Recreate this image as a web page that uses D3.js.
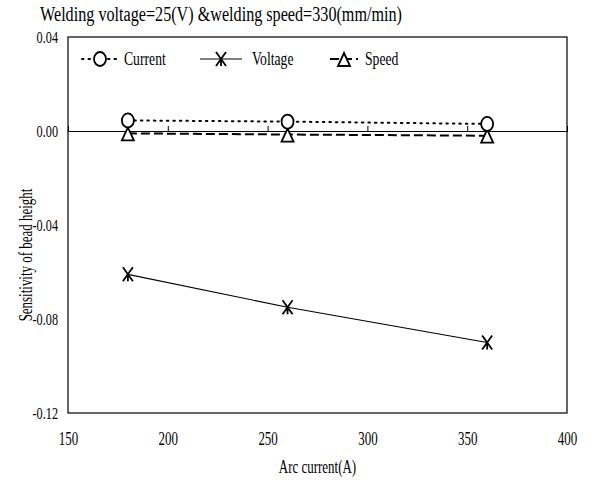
<!DOCTYPE html>
<html>
<head>
<meta charset="utf-8">
<script src="https://cdn.jsdelivr.net/npm/d3@7"></script>
<style>
  body { margin: 0; background: #fff; }
  text { font-family: "Liberation Serif", "DejaVu Serif", serif; fill: #000; }
</style>
</head>
<body>
<div id="chart"></div>
<script>
// DATA
var arcCurrent = [180, 260, 360];
var currentSens = [0.0045, 0.004, 0.003];
var voltageSens = [-0.061, -0.075, -0.090];
var speedSens = [-0.001, -0.0015, -0.002];
var xTicks = [150, 200, 250, 300, 350, 400];
var yTicks = [0.04, 0.00, -0.04, -0.08, -0.12];

// SET UP CHART
var svgWidth = 600;
var svgHeight = 480;
var margin = { top: 37, right: 33, bottom: 67, left: 68 };
var chartWidth = svgWidth - margin.left - margin.right;
var chartHeight = svgHeight - margin.top - margin.bottom;
var squeeze = 0.72; // condensed look of the original font

var svg = d3.select("#chart")
  .append("svg")
  .attr("width", svgWidth)
  .attr("height", svgHeight);

var chartGroup = svg.append("g")
  .attr("transform", `translate(${margin.left}, ${margin.top})`);

// squeeze text horizontally while keeping its anchor point
function condense(sel) {
  sel.each(function() {
    var t = d3.select(this);
    var x = +t.attr("x") || 0;
    t.attr("x", x / squeeze).attr("transform", `scale(${squeeze},1)`);
  });
}

// SCALES
var xScale = d3.scaleLinear().domain([150, 400]).range([0, chartWidth]);
var yScale = d3.scaleLinear().domain([-0.12, 0.04]).range([chartHeight, 0]);

// plot box
chartGroup.append("rect")
  .attr("width", chartWidth)
  .attr("height", chartHeight)
  .attr("fill", "none")
  .attr("stroke", "#000")
  .attr("stroke-width", 1.2);

// zero line with small ticks (x axis crosses at 0)
chartGroup.append("g")
  .attr("transform", `translate(0, ${yScale(0)})`)
  .call(d3.axisBottom(xScale).tickValues(xTicks).tickSize(-5).tickFormat(""))
  .call(g => g.selectAll("path, line").attr("stroke", "#000").attr("stroke-width", 1));

// x tick labels
chartGroup.append("g")
  .attr("transform", `translate(0, ${chartHeight})`)
  .call(d3.axisBottom(xScale).tickValues(xTicks).tickSize(0).tickPadding(19))
  .call(g => g.select(".domain").remove())
  .call(g => g.selectAll("text")
    .style("font-family", "Liberation Serif")
    .attr("font-size", 18)
    .call(condense));

// y tick labels
chartGroup.append("g")
  .call(d3.axisLeft(yScale).tickValues(yTicks).tickSize(0).tickPadding(10)
    .tickFormat(d => d.toFixed(2)))
  .call(g => g.select(".domain").remove())
  .call(g => g.selectAll("text")
    .style("font-family", "Liberation Serif")
    .attr("font-size", 17)
    .call(condense));

// LINES
var line = d3.line()
  .x(d => xScale(d[0]))
  .y(d => yScale(d[1]));

var series = [
  { name: "Current", values: currentSens, dash: "1.5,5", width: 2, cap: "round", marker: "circle" },
  { name: "Voltage", values: voltageSens, dash: null, width: 1.2, cap: "butt", marker: "star" },
  { name: "Speed", values: speedSens, dash: "9,4", width: 2, cap: "butt", marker: "triangle" }
];

// draw marker at a point
function drawMarker(g, type, cx, cy) {
  if (type === "circle") {
    g.append("ellipse")
      .attr("cx", cx).attr("cy", cy)
      .attr("rx", 6).attr("ry", 7)
      .attr("fill", "#fff").attr("stroke", "#000").attr("stroke-width", 1.8);
  } else if (type === "triangle") {
    g.append("path")
      .attr("d", `M${cx},${cy - 6} L${cx + 6},${cy + 7} L${cx - 6},${cy + 7} Z`)
      .attr("fill", "#fff").attr("stroke", "#000").attr("stroke-width", 1.8);
  } else {
    g.append("path")
      .attr("d", `M${cx - 5},${cy - 7} L${cx + 5},${cy + 7} M${cx + 5},${cy - 7} L${cx - 5},${cy + 7} M${cx},${cy} L${cx},${cy + 7}`)
      .attr("fill", "none").attr("stroke", "#000").attr("stroke-width", 1.8);
  }
}

series.forEach(function(s) {
  var pts = arcCurrent.map((x, i) => [x, s.values[i]]);
  chartGroup.append("path")
    .datum(pts)
    .attr("d", line)
    .attr("fill", "none")
    .attr("stroke", "#000")
    .attr("stroke-width", s.width)
    .attr("stroke-linecap", s.cap)
    .attr("stroke-dasharray", s.dash);
});

// markers drawn on top (speed first so circles sit above triangles)
[series[2], series[0], series[1]].forEach(function(s) {
  arcCurrent.forEach(function(x, i) {
    drawMarker(chartGroup, s.marker, xScale(x), yScale(s.values[i]));
  });
});

// LEGEND
var legend = chartGroup.append("g").attr("transform", "translate(0, 22)");
var legendItems = [
  { s: series[0], x0: 14, x1: 50, tx: 56 },
  { s: series[1], x0: 132, x1: 174, tx: 184 },
  { s: series[2], x0: 262, x1: 290, tx: 297 }
];
legendItems.forEach(function(it) {
  legend.append("line")
    .attr("x1", it.x0).attr("x2", it.x1)
    .attr("y1", 0).attr("y2", 0)
    .attr("stroke", "#000")
    .attr("stroke-width", it.s.width)
    .attr("stroke-linecap", it.s.cap)
    .attr("stroke-dasharray", it.s.dash);
  drawMarker(legend, it.s.marker, (it.x0 + it.x1) / 2, 0);
  legend.append("text")
    .attr("x", it.tx).attr("y", 6)
    .attr("font-size", 19)
    .text(it.s.name)
    .call(condense);
});

// TITLES
svg.append("text")
  .attr("x", 40).attr("y", 21)
  .attr("font-size", 20)
  .attr("textLength", 362)
  .attr("lengthAdjust", "spacingAndGlyphs")
  .text("Welding voltage=25(V) &welding speed=330(mm/min)");

svg.append("text")
  .attr("x", margin.left + chartWidth / 2).attr("y", 473)
  .attr("text-anchor", "middle")
  .attr("font-size", 18)
  .text("Arc current(A)")
  .call(condense);

svg.append("g")
  .attr("transform", `translate(32, ${margin.top + chartHeight / 2 + 30}) rotate(-90)`)
  .append("text")
  .attr("text-anchor", "middle")
  .attr("font-size", 18)
  .text("Sensitivity of bead height")
  .call(condense);
</script>
</body>
</html>
